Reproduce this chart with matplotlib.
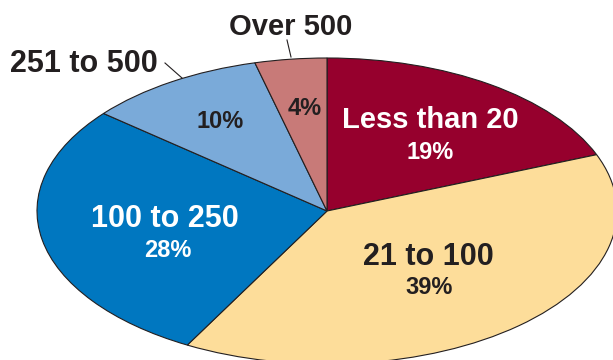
import matplotlib.pyplot as plt

# Data
categories = ["Less than 20", "21 to 100", "100 to 250", "251 to 500", "Over 500"]
shares = [19, 39, 28, 10, 4]
colors = ["#96002D", "#FDDD9A", "#0077C0", "#7AAAD9", "#C87A78"]

W, H = 613, 360
fig = plt.figure(figsize=(W / 100, H / 100), dpi=100)

# ellipse: centre (327, 211) px, radii 290 x 153 px
cx, cy, rx, ry = 327, 211, 290, 153
ax = fig.add_axes([(cx - rx) / W, (H - cy - ry) / H, 2 * rx / W, 2 * ry / H])
ax.pie(shares, colors=colors, startangle=90, counterclock=False,
       wedgeprops=dict(edgecolor="#231F20", linewidth=0.8))
ax.set_aspect("auto")
ax.set_xlim(-1, 1)
ax.set_ylim(-1, 1)
ax.axis("off")

font = "Liberation Sans"
dark = "#231F20"


def put(px, py, s, size, color):
    fig.text(px / W, 1 - py / H, s, ha="center", va="baseline",
             fontsize=size, fontweight="bold", family=font, color=color)


# slice labels (pixel positions, baseline)
put(430, 128, categories[0], 21, "white")
put(430, 159, f"{shares[0]}%", 17, "white")
put(428, 265, categories[1], 22, dark)
put(429, 294, f"{shares[1]}%", 17, dark)
put(165, 227, categories[2], 22, "white")
put(168, 257, f"{shares[2]}%", 17, "white")
put(220, 128, f"{shares[3]}%", 17, dark)
put(305, 115, f"{shares[4]}%", 17, dark)

# outside labels with leader lines
put(84, 72, categories[3], 22, dark)
put(291, 35, categories[4], 21, dark)
fig.add_artist(plt.Line2D([165 / W, 182 / W], [1 - 63 / H, 1 - 78 / H], color=dark, lw=0.8))
fig.add_artist(plt.Line2D([287 / W, 291 / W], [1 - 40 / H, 1 - 57 / H], color=dark, lw=0.8))

fig.savefig("out.png", dpi=100)
